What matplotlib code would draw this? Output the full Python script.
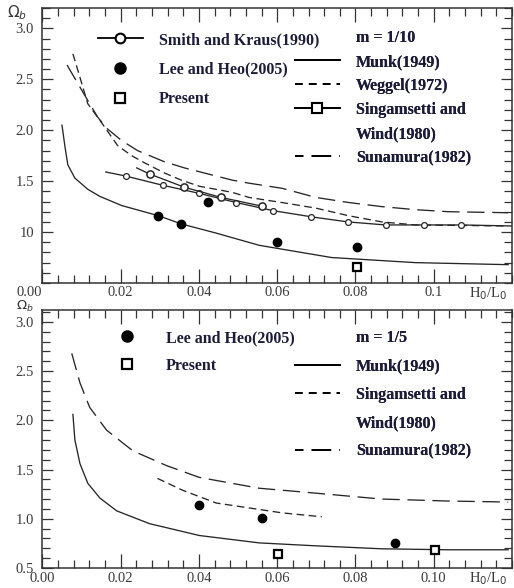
import matplotlib
matplotlib.use("Agg")
import matplotlib.pyplot as plt
from matplotlib.lines import Line2D
from matplotlib.ticker import MultipleLocator, FixedLocator, FixedFormatter

plt.rcParams['lines.scale_dashes'] = False
SERIF = ['Liberation Serif', 'DejaVu Serif']
TXT = '#1c1c3a'
LINE = '#262626'
TICKC = '#3a3a3a'

# ---------------- data: m = 1/10 (top) ----------------
munk10_x = [0.0050, 0.0058, 0.0065, 0.0083, 0.0116, 0.0147, 0.0203, 0.0297, 0.0355, 0.0444, 0.0554, 0.0739, 0.0953, 0.1190]
munk10_y = [2.05, 1.83, 1.66, 1.53, 1.42, 1.35, 1.26, 1.16, 1.08, 0.99, 0.87, 0.75, 0.70, 0.68]

weggel10_x = [0.0078, 0.0116, 0.0152, 0.0192, 0.0228, 0.0261, 0.0312, 0.0355, 0.0401, 0.0485, 0.0528, 0.0612, 0.0699, 0.0783, 0.0867, 0.0953, 0.1190]
weggel10_y = [2.75, 2.26, 2.07, 1.85, 1.75, 1.68, 1.58, 1.51, 1.45, 1.39, 1.34, 1.29, 1.235, 1.16, 1.10, 1.07, 1.06]

suna10_x = [0.0063, 0.0101, 0.0141, 0.0164, 0.0202, 0.0243, 0.0312, 0.0363, 0.0485, 0.0528, 0.0612, 0.0699, 0.0783, 0.0867, 0.0953, 0.1037, 0.1190]
suna10_y = [2.64, 2.39, 2.13, 2.02, 1.90, 1.80, 1.69, 1.63, 1.51, 1.48, 1.43, 1.34, 1.29, 1.25, 1.22, 1.20, 1.19]

smith10_x = [0.0162, 0.0213, 0.0307, 0.0401, 0.0495, 0.0590, 0.0687, 0.0780, 0.0877, 0.0976, 0.1070, 0.1200]
smith10_y = [1.59, 1.55, 1.46, 1.38, 1.29, 1.21, 1.15, 1.10, 1.07, 1.07, 1.07, 1.06]

sing10_x = [0.0241, 0.0274, 0.0363, 0.0457, 0.0560]
sing10_y = [1.63, 1.57, 1.44, 1.34, 1.255]

lee10_x = [0.0296, 0.0355, 0.0424, 0.0600, 0.0803]
lee10_y = [1.16, 1.08, 1.30, 0.90, 0.85]

present10_x = [0.0803]
present10_y = [0.657]

# ---------------- data: m = 1/5 (bottom) ----------------
munk5_x = [0.0078, 0.0083, 0.0096, 0.0116, 0.0147, 0.0190, 0.0274, 0.0401, 0.0554, 0.0699, 0.0867, 0.1037, 0.1190]
munk5_y = [2.06, 1.80, 1.56, 1.36, 1.21, 1.08, 0.95, 0.83, 0.755, 0.725, 0.695, 0.685, 0.685]

suna5_x = [0.0075, 0.0096, 0.0121, 0.0164, 0.0231, 0.0317, 0.0401, 0.0554, 0.0699, 0.0867, 0.1037, 0.1190]
suna5_y = [2.68, 2.38, 2.13, 1.90, 1.69, 1.54, 1.42, 1.31, 1.26, 1.20, 1.18, 1.17]

sing5_x = [0.0294, 0.0358, 0.0444, 0.0528, 0.0612, 0.0714]
sing5_y = [1.41, 1.29, 1.16, 1.11, 1.06, 1.02]

lee5_x = [0.0399, 0.0561, 0.0900]
lee5_y = [1.14, 1.01, 0.755]

present5_x = [0.0603, 0.1002]
present5_y = [0.64, 0.68]

xticks_top = [0.00, 0.02, 0.04, 0.06, 0.08, 0.10]
xlabels_top = ['0.00', '0.02', '0.04', '0.06', '0.08', '0.1']
xticks_bot = [0.00, 0.02, 0.04, 0.06, 0.08, 0.10]
xlabels_bot = ['0.00', '0.02', '0.04', '0.06', '0.08', '0.10']
yticks_top = [1.0, 1.5, 2.0, 2.5, 3.0]
ylabels_top = ['10', '1.5', '2.0', '2.5', '3.0']
yticks_bot = [0.5, 1.0, 1.5, 2.0, 2.5, 3.0]
ylabels_bot = ['0.5', '1.0', '1.5', '2.0', '2.5', '3.0']

WEG_DASH = (0, (5.5, 3.2))
SUN_DASH = (0, (12.5, 5.5))

fig = plt.figure(figsize=(5.14, 5.88), dpi=100)
ax1 = fig.add_axes([42.4 / 514, (588 - 283) / 588, (512 - 42.4) / 514, (283 - 8) / 588])
ax2 = fig.add_axes([42.4 / 514, (588 - 568) / 588, (512 - 42.4) / 514, (568 - 310) / 588])


def style_axes(ax, ylim, xt, xl, yt, yl, omega_pos, omega_size, xpad):
    ax.set_xlim(0, 0.12)
    ax.set_ylim(*ylim)
    for s in ax.spines.values():
        s.set_color('#333333')
        s.set_linewidth(1.1)
    ax.xaxis.set_major_locator(FixedLocator(xt))
    ax.xaxis.set_major_formatter(FixedFormatter(xl))
    ax.xaxis.set_minor_locator(MultipleLocator(0.004))
    ax.yaxis.set_major_locator(MultipleLocator(0.5))
    ax.yaxis.set_minor_locator(MultipleLocator(0.1))
    ax.set_yticks(yt)
    ax.set_yticklabels(yl)
    ax.tick_params(which='both', direction='in', top=True, right=True,
                   color='#333333', width=0.9, labelcolor=TICKC)
    ax.tick_params(axis='x', which='major', length=10, pad=xpad)
    ax.tick_params(axis='x', which='minor', length=6)
    ax.tick_params(axis='y', which='major', length=8, pad=6)
    ax.tick_params(axis='y', which='minor', length=6)
    for lab in ax.get_xticklabels() + ax.get_yticklabels():
        lab.set_fontfamily(SERIF)
        lab.set_fontsize(10.5)
    ax.text(0.114, -0.008, r'H$_0$/L$_0$', transform=ax.get_xaxis_transform(),
            ha='center', va='top', fontsize=10.5, family=SERIF, color=TICKC)
    ax.text(omega_pos[0], omega_pos[1], r'$\Omega_b$', transform=ax.transAxes, ha='center',
            va='center', fontsize=omega_size, color='#333333')


style_axes(ax1, (0.5, 3.2), xticks_top, xlabels_top, yticks_top, ylabels_top, (-0.055, 0.982), 11, 2)
style_axes(ax2, (0.5, 3.12), xticks_bot, xlabels_bot, yticks_bot, ylabels_bot, (-0.038, 1.012), 9.5, 3)
ax1.get_xticklabels()[0].set_ha('right')

lw = 0.95
# ---- top panel ----
ax1.plot(munk10_x, munk10_y, color=LINE, lw=lw)
ax1.plot(weggel10_x, weggel10_y, color=LINE, lw=lw, linestyle=WEG_DASH)
ax1.plot(suna10_x, suna10_y, color=LINE, lw=lw, linestyle=SUN_DASH)
ax1.plot(smith10_x, smith10_y, color=LINE, lw=lw, marker='o', ms=4.2,
         mfc='white', mec=LINE, mew=0.9, markevery=list(range(1, len(smith10_x) - 1)))
ax1.plot(sing10_x, sing10_y, color=LINE, lw=lw, marker='o', ms=5.2,
         mfc='white', mec=LINE, mew=1.1, markevery=list(range(1, len(sing10_x))))
ax1.plot(lee10_x, lee10_y, linestyle='none', marker='o', ms=6, color='black')
ax1.plot(present10_x, present10_y, linestyle='none', marker='s', ms=6,
         mfc='white', mec='black', mew=1.6)

# ---- bottom panel ----
ax2.plot(munk5_x, munk5_y, color=LINE, lw=lw)
ax2.plot(sing5_x, sing5_y, color=LINE, lw=lw, linestyle=WEG_DASH)
ax2.plot(suna5_x, suna5_y, color=LINE, lw=lw, linestyle=SUN_DASH)
ax2.plot(lee5_x, lee5_y, linestyle='none', marker='o', ms=6, color='black')
ax2.plot(present5_x, present5_y, linestyle='none', marker='s', ms=6,
         mfc='white', mec='black', mew=1.6)

# ---- legends ----
LFONT = {'family': SERIF, 'weight': 'bold', 'size': 11.5}
h_smith = Line2D([], [], color='black', lw=1.3, marker='o', ms=7, mfc='white', mew=1.5)
h_lee = Line2D([], [], color='black', lw=0, marker='o', ms=8)
h_pres = Line2D([], [], color='black', lw=0, marker='s', ms=7, mfc='white', mew=1.6)
h_none = Line2D([], [], color='none')
h_munk = Line2D([], [], color='black', lw=1.3)
h_weg = Line2D([], [], color='black', lw=1.3, linestyle=(0, (5.5, 4.5)))
h_sing = Line2D([], [], color='black', lw=1.3, marker='s', ms=7, mfc='white', mew=1.5)
h_sun = Line2D([], [], color='black', lw=1.3, linestyle=(8, (14, 6)))


def add_legend(ax, handles, labels, anchor, spacing, hlen=2.8, pad=1.0):
    lg = ax.legend(handles, labels, loc='upper left', bbox_to_anchor=anchor,
                   bbox_transform=ax.transAxes, frameon=False, prop=LFONT,
                   handlelength=hlen, handletextpad=pad, labelspacing=spacing,
                   borderpad=0, borderaxespad=0, numpoints=1)
    for t in lg.get_texts():
        t.set_color(TXT)
    ax.add_artist(lg)
    return lg


add_legend(ax1, [h_smith, h_lee, h_pres],
           ['Smith and Kraus(1990)', 'Lee and Heo(2005)', 'Present'],
           ((98 - 42.4) / 469.6, (283 - 32) / 275), 0.85)
add_legend(ax1, [h_none, h_munk, h_weg, h_sing, h_none, h_sun],
           ['m = 1/10', 'Munk(1949)', 'Weggel(1972)', 'Singamsetti and', 'Wind(1980)', 'Sunamura(1982)'],
           ((295 - 42.4) / 469.6, (283 - 30) / 275), 0.50)
add_legend(ax2, [h_lee, h_pres], ['Lee and Heo(2005)', 'Present'],
           ((105 - 42.4) / 469.6, (568 - 330) / 258), 0.75)
add_legend(ax2, [h_none, h_munk, h_weg, h_none, h_sun],
           ['m = 1/5', 'Munk(1949)', 'Singamsetti and', 'Wind(1980)', 'Sunamura(1982)'],
           ((295 - 42.4) / 469.6, (568 - 330) / 258), 0.78)

fig.savefig('out.png', dpi=100)
